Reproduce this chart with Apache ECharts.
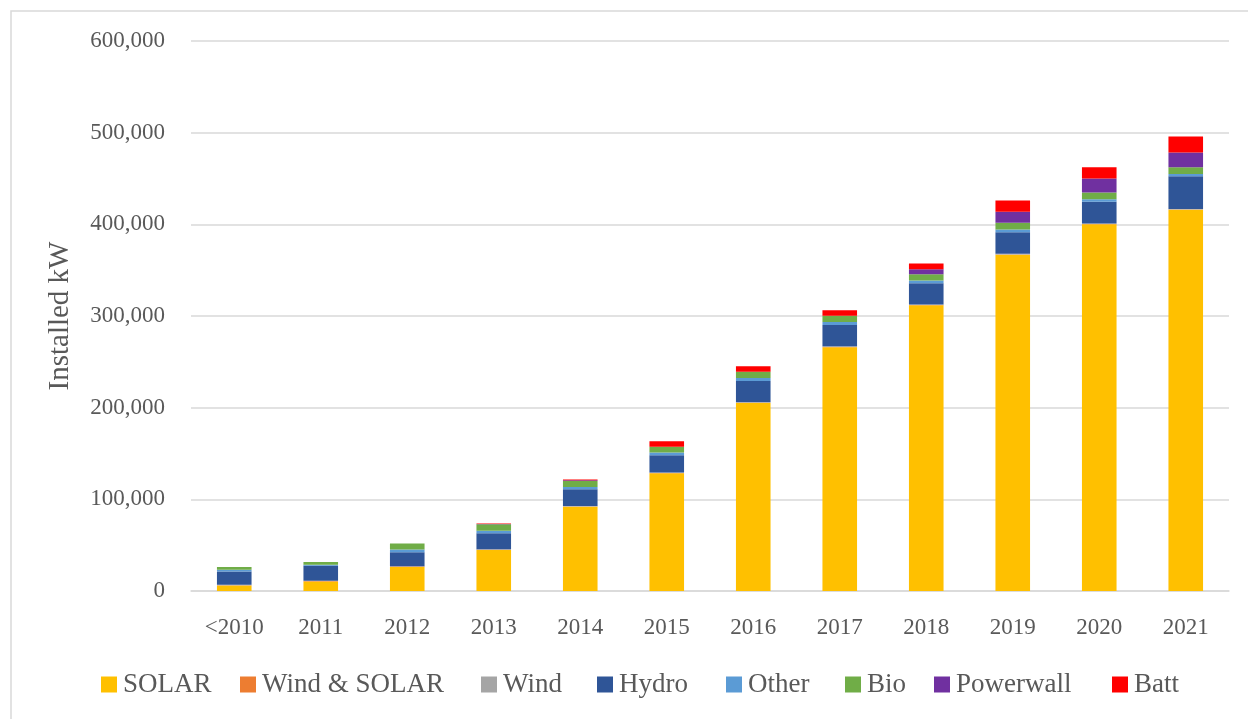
<!DOCTYPE html>
<html>
<head>
<meta charset="utf-8">
<script src="https://cdn.jsdelivr.net/npm/echarts@6/dist/echarts.min.js"></script>
<style>
html,body{margin:0;padding:0;background:#fff;}
#chart{width:1248px;height:719px;}
</style>
</head>
<body>
<div id="chart"></div>
<script>
var categories = ['<2010','2011','2012','2013','2014','2015','2016','2017','2018','2019','2020','2021'];
var solar      = [6000, 10500, 26300, 44600, 91800, 128400, 205200, 266000, 311600, 366800, 400000, 415800];
var windSolar  = [300, 300, 300, 300, 300, 300, 300, 300, 300, 300, 300, 300];
var wind       = [500, 500, 500, 600, 600, 600, 600, 600, 700, 700, 700, 700];
var hydro      = [14500, 16300, 15200, 17400, 18200, 18900, 22900, 23200, 23200, 23600, 23600, 35600];
var other      = [1900, 1100, 2900, 2900, 2500, 2900, 3300, 3300, 2900, 2900, 2900, 2500];
var bio        = [2900, 2900, 6500, 6900, 6500, 6200, 7000, 7000, 6900, 7300, 7300, 7300];
var powerwall  = [0, 0, 0, 500, 800, 0, 0, 0, 5400, 12000, 15200, 16300];
var batt       = [0, 0, 0, 500, 1000, 6200, 5800, 5800, 6200, 12300, 12300, 17400];
var yTicks = [0, 100000, 200000, 300000, 400000, 500000, 600000];

var seriesDefs = [
  ['SOLAR', solar, '#FFC000'],
  ['Wind & SOLAR', windSolar, '#ED7D31'],
  ['Wind', wind, '#A5A5A5'],
  ['Hydro', hydro, '#2F5597'],
  ['Other', other, '#5B9BD5'],
  ['Bio', bio, '#70AD47'],
  ['Powerwall', powerwall, '#7030A0'],
  ['Batt', batt, '#FF0000']
];
var legendLefts = [101, 240, 481, 597, 726, 845, 934, 1112];
var FONT = 'Liberation Serif';
var TXT = '#595959';
var chart = echarts.init(document.getElementById('chart'), null, {renderer:'canvas'});
chart.setOption({
  animation:false,
  backgroundColor:'#fff',
  textStyle:{fontFamily:FONT},
  graphic:[{type:'rect', shape:{x:11,y:11,width:1400,height:900}, style:{fill:'none', stroke:'#d9d9d9', lineWidth:1.5}, silent:true}],
  grid:{left:191, right:19, top:41, bottom:128},
  legend: seriesDefs.map(function(d, i){
    return {
      data:[d[0]], left:legendLefts[i], top:671, padding:[0,0,0,0],
      itemWidth:16, itemHeight:16, icon:'rect', selectedMode:false,
      textStyle:{fontFamily:FONT, fontSize:27, color:TXT, padding:[0,0,0,1]}
    };
  }),
  xAxis:{
    type:'category', data:categories,
    axisLine:{lineStyle:{color:'#d9d9d9', width:1.5}},
    axisTick:{show:false},
    axisLabel:{fontFamily:FONT, fontSize:23, color:TXT, margin:25}
  },
  yAxis:{
    type:'value', min:0, max:600000, interval:100000,
    name:'Installed kW', nameLocation:'middle', nameGap:116,
    nameTextStyle:{fontFamily:FONT, fontSize:29, color:TXT},
    axisLine:{show:false}, axisTick:{show:false},
    splitLine:{lineStyle:{color:'#d9d9d9', width:1.5}},
    axisLabel:{fontFamily:FONT, fontSize:23, color:TXT, margin:26,
      formatter:function(v){return yTicks.indexOf(v)>=0 ? v.toLocaleString('en-US') : '';}}
  },
  series: seriesDefs.map(function(d){
    return {name:d[0], type:'bar', stack:'total', data:d[1], barWidth:'40%',
      itemStyle:{color:d[2]}, emphasis:{disabled:true}};
  })
});
</script>
</body>
</html>
